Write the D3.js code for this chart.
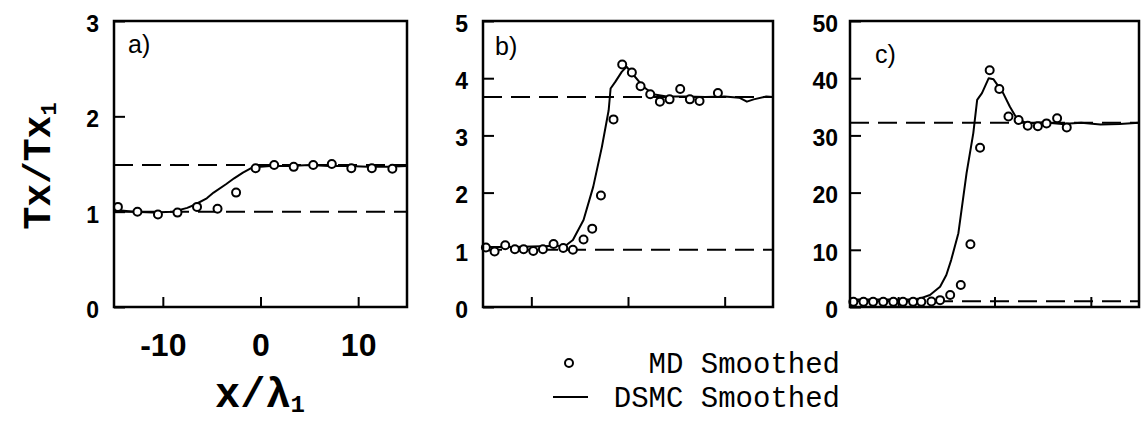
<!DOCTYPE html>
<html>
<head>
<meta charset="utf-8">
<script src="https://cdnjs.cloudflare.com/ajax/libs/d3/7.8.5/d3.min.js"></script>
<style>
body { margin: 0; background: #fff; }
svg { display: block; }
</style>
</head>
<body>
<svg id="chart"></svg>
<script>
const width = 1142;
const height = 423;
const plotTop = 21;
const plotBottom = 307;

// x ticks shared by all three panels
const xTicks = [-10, 0, 10];

// panel a)
const mdAX = [-14.6, -12.6, -10.5, -8.5, -6.5, -4.4, -2.5, -0.5, 1.4, 3.4, 5.4, 7.3, 9.3, 11.4, 13.5];
const mdAY = [1.05, 1.00, 0.97, 0.99, 1.05, 1.03, 1.20, 1.455, 1.49, 1.47, 1.49, 1.50, 1.455, 1.455, 1.45];
const dsmcAX = [-15, -13, -11, -9, -7.5, -6.8, -5.5, -4.8, -3.5, -2.7, -1.8, -1.0, 0, 1, 3, 5, 7, 9, 11, 13, 15];
const dsmcAY = [1.02, 1.0, 0.99, 1.0, 1.04, 1.07, 1.14, 1.2, 1.29, 1.35, 1.41, 1.455, 1.47, 1.48, 1.48, 1.49, 1.48, 1.48, 1.47, 1.47, 1.48];
const levelsA = [1, 1.49];
const yTicksA = [0, 1, 2, 3];

// panel b)
const mdBX = [-14.7, -13.8, -12.7, -11.7, -10.8, -9.8, -8.8, -7.7, -6.7, -5.7, -4.6, -3.7, -2.8, -1.5, -0.6, 0.4, 1.3, 2.3, 3.3, 4.3, 5.4, 6.4, 7.4, 9.3];
const mdBY = [1.04, 0.97, 1.08, 1.01, 1.01, 0.98, 1.01, 1.10, 1.03, 1.00, 1.18, 1.37, 1.95, 3.28, 4.24, 4.10, 3.86, 3.72, 3.59, 3.63, 3.81, 3.63, 3.60, 3.74];
const dsmcBX = [-15, -12, -9, -7, -6.4, -5.7, -4.6, -3.6, -2.7, -2.0, -1.8, -1.3, -0.65, -0.15, 0.55, 1.6, 2.6, 4.0, 6, 8, 10, 11.5, 12.3, 13, 14.3, 15];
const dsmcBY = [1.05, 1.05, 1.06, 1.07, 1.08, 1.17, 1.52, 2.1, 2.8, 3.44, 3.82, 3.94, 4.11, 4.2, 4.06, 3.85, 3.72, 3.68, 3.68, 3.67, 3.68, 3.66, 3.59, 3.63, 3.68, 3.67];
const levelsB = [1, 3.67];
const yTicksB = [0, 1, 2, 3, 4, 5];

// panel c)
const mdCX = [-14.65, -13.6, -12.6, -11.55, -10.5, -9.5, -8.45, -7.6, -6.55, -5.65, -4.6, -3.5, -2.5, -1.5, -0.5, 0.5, 1.45, 2.5, 3.45, 4.5, 5.4, 6.5, 7.5];
const mdCY = [0.9, 0.9, 0.9, 0.9, 0.9, 0.9, 0.9, 0.9, 0.95, 1.2, 2.1, 3.85, 10.96, 27.85, 41.4, 38.1, 33.3, 32.7, 31.7, 31.6, 32.1, 33.0, 31.4];
const dsmcCX = [-15, -12, -9.5, -8.5, -7.7, -6.7, -5.65, -5.0, -4.5, -3.75, -2.9, -2.2, -1.8, -1.3, -0.6, -0.1, 0.9, 1.6, 2.3, 3.35, 5, 7, 9, 11, 13, 15];
const dsmcCY = [1.3, 1.3, 1.3, 1.35, 1.5, 2.1, 3.55, 5.6, 8.2, 12.9, 23.4, 30.4, 36.2, 37.4, 40.0, 39.8, 37.4, 35.0, 33.0, 32.1, 32.3, 32.0, 32.2, 31.9, 32.0, 32.2];
const levelsC = [1, 32.2];
const yTicksC = [0, 10, 20, 30, 40, 50];

const panels = [
    {label: 'a)', left: 114, right: 407, yMax: 3, yTicks: yTicksA, labels: true, pad: 15, lx: 14, ly: 53,
        mdX: mdAX, mdY: mdAY, lineX: dsmcAX, lineY: dsmcAY, levels: levelsA},
    {label: 'b)', left: 483, right: 773, yMax: 5, yTicks: yTicksB, labels: false, pad: 15, lx: 12, ly: 55,
        mdX: mdBX, mdY: mdBY, lineX: dsmcBX, lineY: dsmcBY, levels: levelsB},
    {label: 'c)', left: 850, right: 1139, yMax: 50, yTicks: yTicksC, labels: false, pad: 12, lx: 25, ly: 63,
        mdX: mdCX, mdY: mdCY, lineX: dsmcCX, lineY: dsmcCY, levels: levelsC}
];

const svg = d3.select('#chart')
    .attr('width', width)
    .attr('height', height);

panels.forEach(p => drawPanel(p));

function drawPanel(p) {
    const x = d3.scaleLinear().domain([-15, 15]).range([p.left, p.right]);
    const y = d3.scaleLinear().domain([0, p.yMax]).range([plotBottom, plotTop]);
    const g = svg.append('g');

    // dashed reference levels
    g.selectAll('.level')
        .data(p.levels)
        .enter()
        .append('line')
        .attr('x1', p.left)
        .attr('x2', p.right)
        .attr('y1', d => y(d))
        .attr('y2', d => y(d))
        .attr('stroke', '#000')
        .attr('stroke-width', 2)
        .attr('stroke-dasharray', '19 9');

    const yAxis = g.append('g')
        .attr('transform', `translate(${p.left}, 0)`)
        .call(d3.axisLeft(y).tickValues(p.yTicks).tickSize(-11).tickSizeOuter(0).tickPadding(p.pad)
            .tickFormat(d => String(d)));

    const xAxis = g.append('g')
        .attr('transform', `translate(0, ${plotBottom})`)
        .call(d3.axisBottom(x).tickValues(xTicks).tickSize(-10).tickSizeOuter(0).tickPadding(26)
            .tickFormat(d => p.labels ? String(d) : ''));

    [yAxis, xAxis].forEach(a => {
        a.select('.domain').remove();
        a.selectAll('line').attr('stroke', '#000').attr('stroke-width', 2);
    });
    yAxis.selectAll('text')
        .attr('font-family', '"Liberation Sans", Arial, sans-serif')
        .attr('font-weight', 'bold')
        .attr('font-size', 23)
        .attr('dy', '0.45em')
        .attr('fill', '#000');
    xAxis.selectAll('text')
        .attr('font-family', '"Liberation Sans", Arial, sans-serif')
        .attr('font-weight', 'bold')
        .attr('font-size', 32)
        .attr('fill', '#000');

    // DSMC smoothed line
    const pts = p.lineX.map((v, i) => [v, p.lineY[i]]);
    g.append('path')
        .datum(pts)
        .attr('fill', 'none')
        .attr('stroke', '#000')
        .attr('stroke-width', 2)
        .attr('stroke-linejoin', 'round')
        .attr('d', d3.line().x(d => x(d[0])).y(d => y(d[1])));

    // MD smoothed points
    g.selectAll('circle')
        .data(p.mdX.map((v, i) => [v, p.mdY[i]]))
        .enter()
        .append('circle')
        .attr('cx', d => x(d[0]))
        .attr('cy', d => y(d[1]))
        .attr('r', 4)
        .attr('fill', '#fff')
        .attr('stroke', '#000')
        .attr('stroke-width', 2);

    // frame
    g.append('rect')
        .attr('x', p.left)
        .attr('y', plotTop)
        .attr('width', p.right - p.left)
        .attr('height', plotBottom - plotTop)
        .attr('fill', 'none')
        .attr('stroke', '#000')
        .attr('stroke-width', 2.5);

    g.append('text')
        .attr('x', p.left + p.lx)
        .attr('y', p.ly)
        .attr('font-family', '"Liberation Sans", Arial, sans-serif')
        .attr('font-size', 25)
        .text(p.label);
}

// axis titles
const yTitle = svg.append('text')
    .attr('transform', 'translate(50, 166) rotate(-90)')
    .attr('text-anchor', 'middle')
    .attr('font-family', '"Liberation Mono", "Courier New", monospace')
    .attr('font-weight', 'bold')
    .attr('font-size', 38);
yTitle.append('tspan').text('Tx/Tx');
yTitle.append('tspan').attr('font-size', 22).attr('dy', 6).text('1');

const xTitle = svg.append('text')
    .attr('x', 260)
    .attr('y', 407)
    .attr('text-anchor', 'middle')
    .attr('font-family', '"Liberation Mono", "Courier New", monospace')
    .attr('font-weight', 'bold')
    .attr('font-size', 42);
xTitle.append('tspan').text('x/λ');
xTitle.append('tspan').attr('font-size', 24).attr('dy', 5).text('1');

// legend
const legend = svg.append('g');
legend.append('circle')
    .attr('cx', 569).attr('cy', 363).attr('r', 4)
    .attr('fill', '#fff').attr('stroke', '#000').attr('stroke-width', 2);
legend.append('line')
    .attr('x1', 553).attr('x2', 588).attr('y1', 397).attr('y2', 397)
    .attr('stroke', '#000').attr('stroke-width', 2);
legend.selectAll('.leg-text')
    .data([['MD Smoothed', 373], ['DSMC Smoothed', 407]])
    .enter()
    .append('text')
    .attr('x', 840)
    .attr('y', d => d[1])
    .attr('text-anchor', 'end')
    .attr('font-family', '"Liberation Mono", "Courier New", monospace')
    .attr('font-size', 29)
    .text(d => d[0]);
</script>
</body>
</html>
